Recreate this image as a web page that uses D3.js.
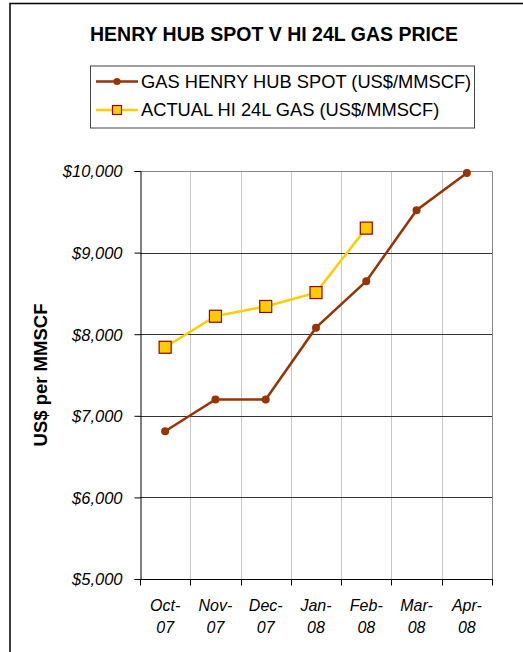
<!DOCTYPE html>
<meta charset="utf-8" />
<style>
  body { margin: 0; background: #fff; }
  svg { display: block; font-family: "Liberation Sans", Arial, sans-serif; }
</style>
<body>
<script src="https://d3js.org/d3.v7.min.js"></script>
<script>
  // data
  var months = ['Oct-07', 'Nov-07', 'Dec-07', 'Jan-08', 'Feb-08', 'Mar-08', 'Apr-08'];
  var henryHub = [6810, 7200, 7200, 8080, 8650, 9520, 9975];
  var hi24l = [7840, 8220, 8340, 8510, 9300];
  var yTicks = [5000, 6000, 7000, 8000, 9000, 10000];

  var W = 523, H = 652;
  var plot = { left: 140, right: 492, top: 171, bottom: 579 };

  var svg = d3.select('body').append('svg')
    .attr('width', W)
    .attr('height', H);

  // outer chart frame (runs off the picture at right and bottom)
  svg.append('rect')
    .attr('x', 10).attr('y', 3.5)
    .attr('width', 600).attr('height', 700)
    .attr('fill', 'none')
    .attr('stroke', '#000')
    .attr('stroke-width', 1.5);

  svg.append('text')
    .attr('x', 274).attr('y', 40.5)
    .attr('text-anchor', 'middle')
    .style('font-weight', 'bold')
    .style('font-size', '19.5px')
    .text('HENRY HUB SPOT V HI 24L GAS PRICE');

  var x = d3.scaleBand().domain(months).range([plot.left, plot.right]);
  var y = d3.scaleLinear().domain([5000, 10000]).range([plot.bottom, plot.top]);
  var cx = function (d, i) { return x(months[i]) + x.bandwidth() / 2; };

  // vertical gridlines at category boundaries
  svg.append('g')
    .selectAll('line')
    .data(months.slice(1))
    .join('line')
    .attr('x1', function (d) { return Math.round(x(d)) + 0.5; })
    .attr('x2', function (d) { return Math.round(x(d)) + 0.5; })
    .attr('y1', plot.top).attr('y2', plot.bottom)
    .attr('stroke', '#c8c8c8');

  // horizontal gridlines
  svg.append('g')
    .selectAll('line')
    .data(yTicks.slice(1, -1))
    .join('line')
    .attr('x1', plot.left).attr('x2', plot.right)
    .attr('y1', function (d) { return Math.round(y(d)) + 0.5; })
    .attr('y2', function (d) { return Math.round(y(d)) + 0.5; })
    .attr('stroke', '#333');

  // plot border top + right
  svg.append('path')
    .attr('d', 'M' + plot.left + ',' + (plot.top + 0.5) + 'H' + (plot.right + 0.5) + 'V' + plot.bottom)
    .attr('fill', 'none')
    .attr('stroke', '#888');

  // y axis
  var yAxis = svg.append('g')
    .attr('transform', 'translate(' + (plot.left + 0.5) + ',0)')
    .call(d3.axisLeft(y).tickValues(yTicks).tickSize(6).tickPadding(12)
      .tickFormat(function (d) { return '$' + d3.format(',')(d); }));
  yAxis.attr('font-size', null).attr('font-family', null);
  yAxis.select('.domain').attr('stroke', '#000');
  yAxis.selectAll('.tick line').attr('stroke', '#000');
  yAxis.selectAll('text')
    .attr('dy', '0.36em')
    .style('font-size', '16.5px')
    .style('font-style', 'italic')
    .attr('fill', '#000');

  // x axis, ticks at category boundaries
  var xAxis = svg.append('g')
    .attr('transform', 'translate(0,' + (plot.bottom + 0.5) + ')');
  xAxis.append('line')
    .attr('x1', plot.left).attr('x2', plot.right + 1)
    .attr('stroke', '#000');
  xAxis.selectAll('.tk')
    .data(months.concat(['end']))
    .join('line')
    .attr('class', 'tk')
    .attr('x1', function (d, i) { return Math.round(i < months.length ? x(d) : plot.right) + 0.5; })
    .attr('x2', function (d, i) { return Math.round(i < months.length ? x(d) : plot.right) + 0.5; })
    .attr('y1', 0).attr('y2', 6)
    .attr('stroke', '#000');
  var xl = xAxis.selectAll('.lbl')
    .data(months)
    .join('text')
    .attr('class', 'lbl')
    .attr('text-anchor', 'middle')
    .style('font-size', '16px')
    .style('font-style', 'italic')
    .attr('transform', function (d, i) { return 'translate(' + cx(d, i) + ',0)'; });
  xl.append('tspan').attr('x', 0).attr('y', 31).text(function (d) { return d.split('-')[0] + '-'; });
  xl.append('tspan').attr('x', 0).attr('y', 53).text(function (d) { return d.split('-')[1]; });

  // y axis title
  svg.append('text')
    .attr('transform', 'translate(47,375) rotate(-90)')
    .attr('text-anchor', 'middle')
    .style('font-weight', 'bold')
    .style('font-size', '18.5px')
    .text('US$ per MMSCF');

  // series
  var line = d3.line().x(cx).y(function (d) { return y(d); });

  svg.append('path')
    .datum(henryHub)
    .attr('d', line)
    .attr('fill', 'none')
    .attr('stroke', '#993300')
    .attr('stroke-width', 2.5);
  svg.append('g')
    .selectAll('circle')
    .data(henryHub)
    .join('circle')
    .attr('cx', cx)
    .attr('cy', function (d) { return y(d); })
    .attr('r', 4)
    .attr('fill', '#993300');

  svg.append('path')
    .datum(hi24l)
    .attr('d', line)
    .attr('fill', 'none')
    .attr('stroke', '#ffcc00')
    .attr('stroke-width', 2.5);
  svg.append('g')
    .selectAll('rect')
    .data(hi24l)
    .join('rect')
    .attr('x', function (d, i) { return cx(d, i) - 6; })
    .attr('y', function (d) { return y(d) - 6; })
    .attr('width', 12).attr('height', 12)
    .attr('fill', '#ffcc00')
    .attr('stroke', '#990000')
    .attr('stroke-width', 1.2);

  // legend
  var legend = svg.append('g');
  legend.append('rect')
    .attr('x', 90.5).attr('y', 66)
    .attr('width', 384).attr('height', 62)
    .attr('fill', '#fff')
    .attr('stroke', '#444');
  var items = [
    { name: 'GAS HENRY HUB SPOT (US$/MMSCF)', color: '#993300', marker: 'circle' },
    { name: 'ACTUAL HI 24L GAS (US$/MMSCF)', color: '#ffcc00', marker: 'square' }
  ];
  var li = legend.selectAll('.item')
    .data(items)
    .join('g')
    .attr('class', 'item')
    .attr('transform', function (d, i) { return 'translate(0,' + (81.5 + i * 28.5) + ')'; });
  li.append('line')
    .attr('x1', 96).attr('x2', 138)
    .attr('stroke', function (d) { return d.color; })
    .attr('stroke-width', 2.5);
  li.filter(function (d) { return d.marker === 'circle'; })
    .append('circle')
    .attr('cx', 117).attr('r', 3.6)
    .attr('fill', '#993300');
  li.filter(function (d) { return d.marker === 'square'; })
    .append('rect')
    .attr('x', 112.5).attr('y', -4.5)
    .attr('width', 9).attr('height', 9)
    .attr('fill', '#ffcc00')
    .attr('stroke', '#990000')
    .attr('stroke-width', 1.2);
  li.append('text')
    .attr('x', 141)
    .attr('y', 6.2)
    .style('font-size', '18.3px')
    .text(function (d) { return d.name; });
</script>
</body>
